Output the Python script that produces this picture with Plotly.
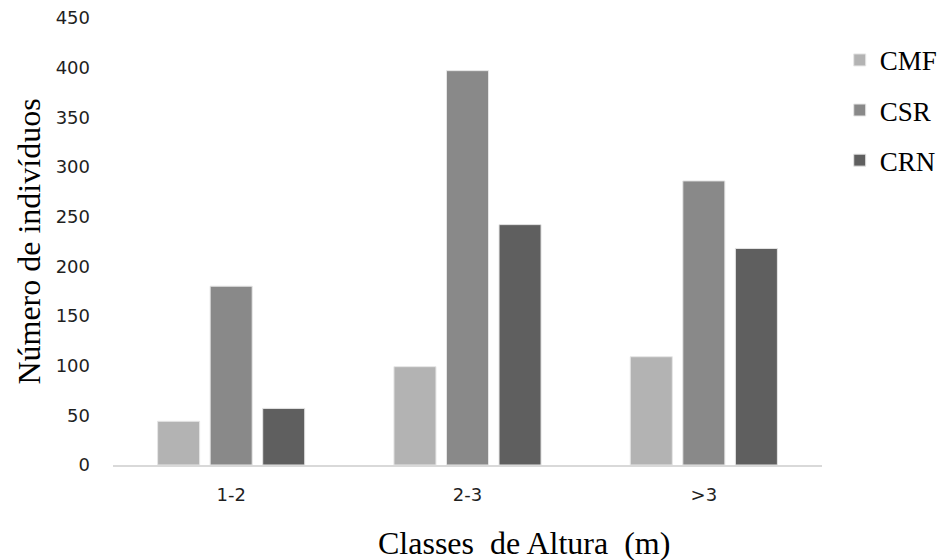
import plotly.graph_objects as go

categories = ["1-2", "2-3", ">3"]
series_names = ["CMF", "CSR", "CRN"]
cmf = [44, 99, 109]
csr = [180, 397, 286]
crn = [57, 242, 218]
colors = ["#b3b3b3", "#898989", "#5f5f5f"]

fig = go.Figure()
for name, vals, col in zip(series_names, [cmf, csr, crn], colors):
    fig.add_trace(go.Bar(
        x=categories, y=vals, name=name, legendgroup=name,
        marker=dict(color=col, line=dict(color="#e6e6e6", width=1)),
    ))

fig.update_layout(
    width=947, height=560,
    paper_bgcolor="white", plot_bgcolor="white",
    margin=dict(l=105, r=133, t=10, b=103, autoexpand=False),
    barmode="group", bargap=0.333, bargroupgap=0.2,
    font=dict(family="DejaVu Sans", size=19, color="#1f1f1f"),
    legend=dict(
        x=1.025, y=0.96, xanchor="left", yanchor="top",
        font=dict(family="Liberation Serif", size=27, color="#000000"),
        traceorder="grouped", tracegroupgap=12,
        itemwidth=30,
    ),
    xaxis=dict(
        showline=True, linecolor="#d9d9d9", linewidth=1.5,
        ticks="", ticklabelstandoff=13, automargin=False,
        tickfont=dict(family="DejaVu Sans", size=18, color="#1f1f1f"),
    ),
    yaxis=dict(
        range=[0, 450], dtick=50, showgrid=False, zeroline=False,
        showline=False, ticks="", ticklabelstandoff=22, automargin=False,
        ticklabeloverflow="allow",
        tickfont=dict(family="DejaVu Sans", size=18, color="#1f1f1f"),
        title=dict(text="Número de indivíduos",
                   font=dict(family="Liberation Serif", size=32, color="#000000"),
                   standoff=5),
    ),
    annotations=[dict(
        text="Classes  de Altura  (m)", xref="paper", yref="paper",
        x=0.58, y=-0.175, xanchor="center", yanchor="middle", showarrow=False,
        font=dict(family="Liberation Serif", size=32, color="#000000"),
    )],
)

fig.write_html("out.html")
